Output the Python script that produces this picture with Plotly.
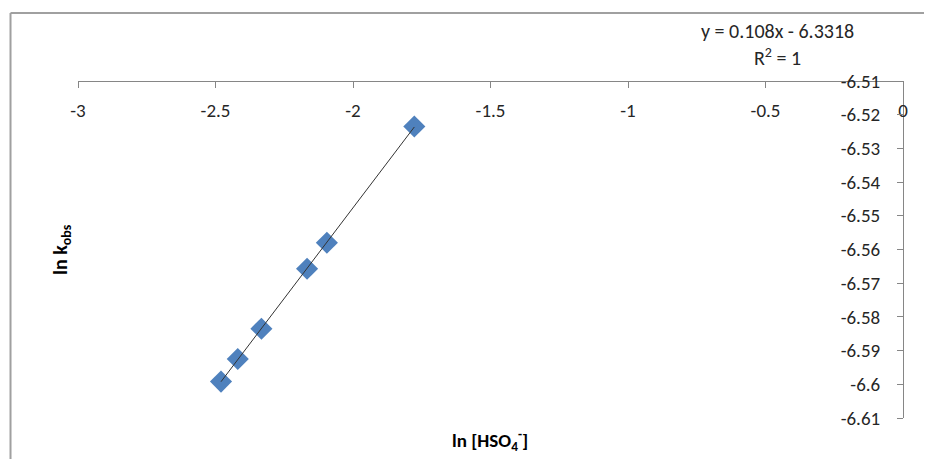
import numpy as np
import plotly.graph_objects as go

# Data
ln_hso4 = [-2.480, -2.419, -2.333, -2.167, -2.095, -1.777]
ln_kobs = [-6.5992, -6.5925, -6.5835, -6.5657, -6.5580, -6.5235]

x_tickvals = [-3, -2.5, -2, -1.5, -1, -0.5, 0]
x_ticktext = ["-3", "-2.5", "-2", "-1.5", "-1", "-0.5", "0"]
y_tickvals = [-6.61, -6.60, -6.59, -6.58, -6.57, -6.56, -6.55, -6.54, -6.53, -6.52, -6.51]
y_ticktext = ["-6.61", "-6.6", "-6.59", "-6.58", "-6.57", "-6.56", "-6.55", "-6.54", "-6.53", "-6.52", "-6.51"]

eq_text = "y = 0.108x - 6.3318"
r2_text = "R<sup>2</sup> = 1"

FONT = "Carlito, Liberation Sans, Arial, sans-serif"
AXC = "#868686"
TXT = "#262626"
FS = 19

slope, intercept = np.polyfit(ln_hso4, ln_kobs, 1)
xs = [min(ln_hso4), max(ln_hso4)]
ys = [slope * v + intercept for v in xs]

fig = go.Figure()
fig.add_trace(go.Scatter(x=ln_hso4, y=ln_kobs, mode="markers",
                         marker=dict(symbol="diamond", size=17, color="#4F81BD"),
                         showlegend=False))
fig.add_trace(go.Scatter(x=xs, y=ys, mode="lines",
                         line=dict(color="#333333", width=1), showlegend=False))

# page body has an 8px margin; figure sized so it fits the window exactly
fig.update_layout(
    width=916, height=451,
    margin=dict(l=69.5, r=21, t=73, b=41, autoexpand=False),
    paper_bgcolor="white", plot_bgcolor="white",
    font=dict(family=FONT, size=FS, color=TXT),
    xaxis=dict(range=[-3, 0], tickvals=x_tickvals, ticktext=x_ticktext,
               showgrid=False, zeroline=False, showline=True, linecolor=AXC,
               linewidth=1, ticks="outside", ticklen=6, tickcolor=AXC,
               anchor="free", position=1, side="bottom", ticklabelstandoff=6,
               automargin=False,
               tickfont=dict(family=FONT, size=FS, color=TXT)),
    yaxis=dict(range=[-6.61, -6.51], tickvals=y_tickvals, ticktext=y_ticktext,
               showgrid=False, zeroline=False, showline=True, linecolor=AXC,
               linewidth=1, ticks="outside", ticklen=6, tickcolor=AXC,
               anchor="free", position=1, side="left", ticklabelstandoff=13,
               automargin=False,
               tickfont=dict(family=FONT, size=FS, color=TXT)),
)

# chart-area border (top and left edges visible in the reference)
fig.add_shape(type="line", xref="paper", yref="paper",
              x0=-0.0818, y0=1.2018, x1=1.5, y1=1.2018,
              line=dict(color="#a0a0a0", width=2), layer="below")
fig.add_shape(type="line", xref="paper", yref="paper",
              x0=-0.0818, y0=-0.4, x1=-0.0818, y1=1.2018,
              line=dict(color="#a0a0a0", width=2), layer="below")

fig.add_annotation(xref="paper", yref="paper", x=0.848, y=1.148, text=eq_text,
                   xanchor="center", yanchor="middle",
                   showarrow=False, font=dict(family=FONT, size=20, color=TXT))
fig.add_annotation(xref="paper", yref="paper", x=0.848, y=1.071, text=r2_text,
                   xanchor="center", yanchor="middle",
                   showarrow=False, font=dict(family=FONT, size=20, color=TXT))
fig.add_annotation(xref="paper", yref="paper", x=-0.0194, y=0.5015,
                   text="<b>ln k<sub>obs</sub></b>", textangle=-90,
                   xanchor="center", yanchor="middle",
                   showarrow=False, font=dict(family=FONT, size=20, color="#000000"))
fig.add_annotation(xref="paper", yref="paper", x=0.4994, y=-0.0653,
                   text="<b>ln [HSO<sub>4</sub><sup>-</sup>]</b>",
                   xanchor="center", yanchor="middle",
                   showarrow=False, font=dict(family=FONT, size=FS, color="#000000"))

fig.write_html("out.html")
